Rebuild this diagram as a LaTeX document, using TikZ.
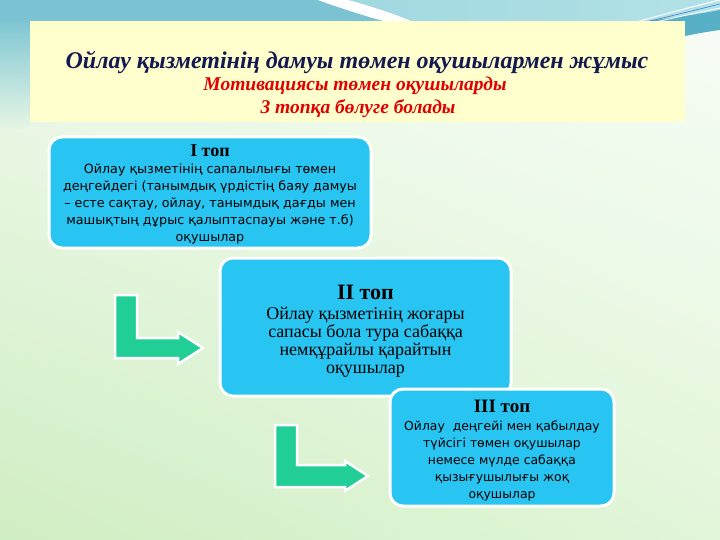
\documentclass[tikz,border=0pt]{standalone}
\usepackage{fontspec}
\setmainfont{Liberation Serif}
\newfontfamily\bodysans{DejaVu Sans}
\usetikzlibrary{fadings,shadings}
\definecolor{boxblue}{RGB}{41,197,242}
\definecolor{arrowgreen}{RGB}{32,206,150}
\definecolor{titlenavy}{RGB}{20,26,80}
\definecolor{titlered}{RGB}{225,0,0}
\definecolor{paleyellow}{RGB}{255,255,206}
\definecolor{tealA}{RGB}{104,188,206}
\definecolor{tealB}{RGB}{128,196,212}
\definecolor{tealC}{RGB}{160,216,224}
\definecolor{tealE}{RGB}{178,226,230}
\definecolor{tealD}{RGB}{88,176,198}
\definecolor{bgUL}{RGB}{240,250,237}
\definecolor{bgUR}{RGB}{248,253,247}
\definecolor{bgLL}{RGB}{208,238,195}
\definecolor{bgLR}{RGB}{226,246,217}
\tikzfading[name=fadedown, top color=transparent!0, bottom color=transparent!100]
\tikzset{
  groupbox/.style={draw=white, line width=3pt, fill=boxblue, rounded corners=13pt, inner sep=0pt},
  boxtext/.style={align=center, inner sep=0pt},
  lbend/.style={draw=white, line width=2.5pt, fill=arrowgreen, line join=miter},
  titlefont/.style={font=\fontsize{24}{27}\selectfont\bfseries\itshape, text=titlenavy},
  subfont/.style={font=\fontsize{19.5}{22}\selectfont\bfseries\itshape, text=titlered}
}
\begin{document}
\begin{tikzpicture}[x=1pt,y=-1pt]
\useasboundingbox (0,0) rectangle (720,540);
% background
\shade[upper left=bgUL, upper right=bgUR, lower left=bgLL, lower right=bgLR] (0,0) rectangle (720,540);
\fill[tealA, path fading=fadedown] (0,0) rectangle (30,130);
\shade[left color=tealA, right color=tealB] (0,0) rectangle (360,22);
\shade[left color=tealC, right color=tealE] (330,0) rectangle (720,22);
\fill[tealB!80!tealA] (0,0) -- (318,0) .. controls (340,8) and (365,16) .. (387,22) -- (0,22) -- cycle;
\fill[white] (318,0) .. controls (340,8) and (365,16) .. (387,22) -- (413,22) .. controls (395,14) and (370,6) .. (348,0) -- cycle;
% top-right ribbon
\fill[tealD] (640,22) .. controls (670,18) and (700,14) .. (720,10) -- (720,30) .. controls (705,32) and (695,34) .. (685,36) -- (685,22) -- cycle;
\draw[white, line width=1pt] (636,22) .. controls (665,14) and (695,6) .. (720,0);
\draw[tealD!70!blue, line width=0.6pt] (646,22) .. controls (675,15) and (700,9) .. (720,4);
\draw[white, line width=0.8pt] (656,22) .. controls (682,16) and (705,11) .. (720,8);
% title box
\fill[paleyellow] (30,21) rectangle (685,122);
\node[titlefont] (t1) at (357,62) {Ойлау қызметінің дамуы төмен оқушылармен жұмыс};
\node[subfont] (t2) at (355,86) {Мотивациясы төмен оқушыларды};
\node[subfont] (t3) at (358,109) {3 топқа бөлуге болады};
% arrows
\draw[lbend] (115,295) -- (137,295) -- (137,338) -- (178,338) -- (178,332) -- (203,348) -- (178,364) -- (178,358) -- (115,358) -- cycle;
\draw[lbend] (275,425) -- (297,425) -- (297,465) -- (345,465) -- (345,461) -- (368,476) -- (345,491) -- (345,487) -- (275,487) -- cycle;
% boxes
\node[groupbox, minimum width=322pt, minimum height=111pt] (g1) at (210,192.5) {};
\node[boxtext, font=\bodysans\fontsize{12.7}{16.8}\selectfont] (g1t) at (210,194)
 {{\rmfamily\bfseries\fontsize{18}{19}\selectfont I топ}\\[1pt]
  Ойлау қызметінің сапалылығы төмен\\
  деңгейдегі (танымдық үрдістің баяу дамуы\\
  – есте сақтау, ойлау, танымдық дағды мен\\
  машықтың дұрыс қалыптаспауы және т.б)\\
  оқушылар};
\node[groupbox, minimum width=291pt, minimum height=138pt] (g2) at (365.5,327) {};
\node[boxtext, font=\fontsize{18}{18.2}\selectfont] (g2t) at (365.5,331.5)
 {{\bfseries\fontsize{22}{23}\selectfont II топ}\\[1pt]
  Ойлау қызметінің жоғары\\
  сапасы бола тура сабаққа\\
  немқұрайлы қарайтын\\
  оқушылар};
\node[groupbox, minimum width=224pt, minimum height=117pt] (g3) at (502,447.5) {};
\node[boxtext, font=\bodysans\fontsize{12.4}{17}\selectfont] (g3t) at (502,450.5)
 {{\rmfamily\bfseries\fontsize{19}{20}\selectfont III топ}\\[1pt]
  Ойлау\ \ деңгейі мен қабылдау\\
  түйсігі төмен оқушылар\\
  немесе мүлде сабаққа\\
  қызығушылығы жоқ\\
  оқушылар};
\end{tikzpicture}
\end{document}
